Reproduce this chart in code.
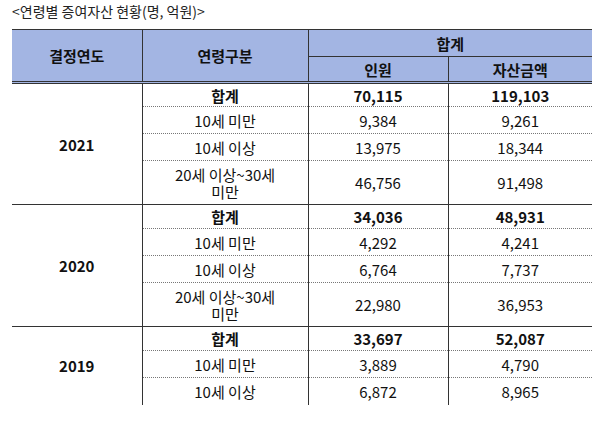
<!DOCTYPE html><html><head><meta charset="utf-8">
<script src="https://cdn.jsdelivr.net/npm/chart.js@4"></script>
<style>
body{margin:0;background:#fff;font-family:"Noto Sans CJK KR",sans-serif;width:600px;height:423px;overflow:hidden}
#title{position:absolute;left:12px;top:1px;font-size:14px;color:#222}
table{position:absolute;left:12px;top:29px;border-collapse:collapse;font-size:15px;color:#111}
td,th{text-align:center;padding:0;line-height:17px}
th{background:#a3b5e3;font-weight:bold;font-size:15px}
.b{font-weight:bold}
.dot td.c{border-top:1px dotted #777}
</style></head><body>
<div id="title">&lt;연령별 증여자산 현황(명, 억원)&gt;</div>
<table id="t"></table>
<script>
const years=["2021","2020","2019"];
const ageGroups=["합계","10세 미만","10세 이상","20세 이상~30세 미만"];
const people=[[70115,9384,13975,46756],[34036,4292,6764,22980],[33697,3889,6872]];
const assets=[[119103,9261,18344,91498],[48931,4241,7737,36953],[52087,4790,8965]];
const fmt=v=>v.toLocaleString('en-US');
const t=document.getElementById('t');
let h=`<colgroup><col style="width:130px"><col style="width:166px"><col style="width:140px"><col style="width:144px"></colgroup>
<tr style="height:27px"><th rowspan=2 style="border-top:1px solid #333;border-right:1px solid #333;border-bottom:3px double #333">결정연도</th><th rowspan=2 style="border-top:1px solid #333;border-right:1px solid #333;border-bottom:3px double #333">연령구분</th><th colspan=2 style="border-top:1px solid #333;border-bottom:1px solid #333">합계</th></tr>
<tr style="height:26px"><th style="border-right:1px solid #333;border-bottom:3px double #333">인원</th><th style="border-bottom:3px double #333">자산금액</th></tr>`;
const rowH=[24,27,27,44];
years.forEach((y,g)=>{
 const n=people[g].length;
 people[g].forEach((p,i)=>{
  const bold=i===0?' b':'';
  const age=ageGroups[i].replace('~30세 미만','~30세<br>미만');
  const bt=i===0&&g>0?'border-top:1px solid #333;':'';
  h+=`<tr class="${i>0?'dot':''}" style="height:${rowH[i]}px">`;
  if(i===0)h+=`<td rowspan=${n} class="b" style="${bt}border-right:1px solid #333">${y}</td>`;
  h+=`<td class="c${bold}" style="${bt}border-right:1px solid #333">${age}</td><td class="c${bold}" style="${bt}border-right:1px solid #333">${fmt(p)}</td><td class="c${bold}" style="${bt}">${fmt(assets[g][i])}</td></tr>`;
 });
});
t.innerHTML=h;
</script></body></html>
